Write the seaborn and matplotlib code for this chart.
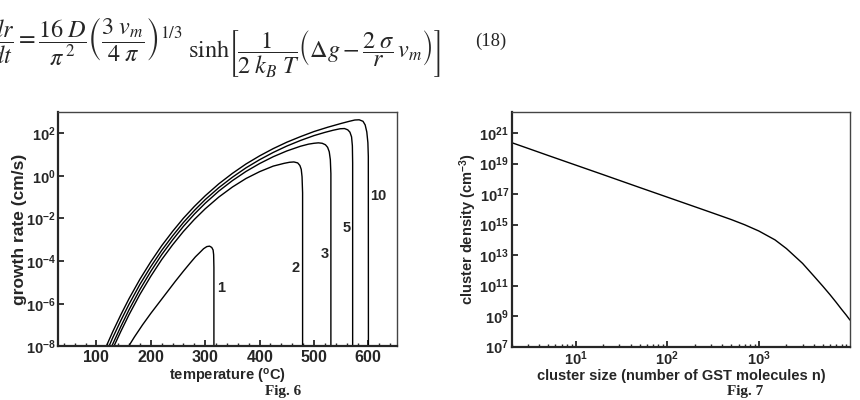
import numpy as np
import pandas as pd
import matplotlib
matplotlib.use("Agg")
import matplotlib.pyplot as plt
import matplotlib.ticker as mticker
import seaborn as sns

# Fig. 6 : growth rate vs temperature, log10 of rate (cm/s)
temp_1 = [159, 170, 185, 200, 215, 230, 245, 260, 272, 282, 290, 297, 303, 308, 312, 314.5,
          315.5, 316, 316]
lgrate_1 = [-8.0, -7.55, -6.98, -6.45, -5.95, -5.45, -4.95, -4.47, -4.1, -3.8, -3.6, -3.42,
            -3.32, -3.3, -3.36, -3.48, -3.7, -4.3, -9.0]

temp_2 = [132, 145, 160, 180, 200, 220, 240, 260, 280, 300, 325, 350, 375, 400, 425, 445,
          455, 463, 470, 474, 476.5, 478, 479, 479]
lgrate_2 = [-8.0, -7.29, -6.51, -5.56, -4.71, -3.93, -3.24, -2.61, -2.05, -1.55, -1.0, -0.53,
            -0.13, 0.19, 0.45, 0.58, 0.63, 0.645, 0.6, 0.48, 0.3, -0.05, -0.8, -9.0]

temp_3 = [128, 145, 160, 180, 200, 220, 240, 260, 280, 300, 325, 350, 375, 400, 425, 450,
          475, 490, 500, 508, 515, 521, 525, 528, 530, 531, 531]
lgrate_3 = [-8.0, -7.06, -6.28, -5.33, -4.48, -3.7, -3.01, -2.37, -1.8, -1.29, -0.72, -0.23,
            0.2, 0.57, 0.89, 1.16, 1.38, 1.48, 1.52, 1.54, 1.52, 1.45, 1.33, 1.12, 0.75, 0.1, -9.0]

temp_5 = [123, 130, 145, 160, 180, 200, 220, 240, 260, 280, 300, 325, 350, 375, 400, 425,
          450, 475, 500, 520, 535, 548, 556, 562, 566, 569, 570.5, 571, 571]
lgrate_5 = [-8.0, -7.59, -6.78, -6.02, -5.09, -4.26, -3.5, -2.82, -2.19, -1.63, -1.12, -0.56,
            -0.07, 0.37, 0.75, 1.09, 1.39, 1.65, 1.88, 2.03, 2.13, 2.2, 2.21, 2.15, 2.04, 1.82,
            1.4, 0.6, -9.0]

temp_10 = [118, 130, 145, 160, 180, 200, 220, 240, 260, 280, 300, 325, 350, 375, 400, 425,
           450, 475, 500, 525, 550, 565, 575, 583, 590, 594, 597, 599, 599.8, 600]
lgrate_10 = [-8.0, -7.31, -6.51, -5.76, -4.85, -4.03, -3.28, -2.61, -1.99, -1.44, -0.94, -0.38,
             0.11, 0.55, 0.93, 1.27, 1.57, 1.83, 2.07, 2.27, 2.45, 2.55, 2.61, 2.62, 2.55, 2.38,
             2.05, 1.55, 0.9, -9.0]

curve_names = ["1", "2", "3", "5", "10"]

# Fig. 7 : cluster density (cm^-3) vs cluster size, density as log10
cluster_size = [2, 3, 5, 10, 20, 50, 100, 200, 300, 500, 700, 1000, 1500, 2000, 3000, 4000,
                5000, 6000, 7000, 8000, 9000, 9900]
lgdensity = [20.37, 20.0, 19.53, 18.9, 18.27, 17.43, 16.8, 16.17, 15.8, 15.33, 14.99, 14.58,
             14.0, 13.43, 12.46, 11.62, 10.96, 10.4, 9.9, 9.45, 9.07, 8.74]

frames = []
for name, t, lr in zip(curve_names,
                       [temp_1, temp_2, temp_3, temp_5, temp_10],
                       [lgrate_1, lgrate_2, lgrate_3, lgrate_5, lgrate_10]):
    frames.append(pd.DataFrame({"temperature": t, "rate": np.power(10.0, lr), "curve": name}))
df6 = pd.concat(frames, ignore_index=True)
df7 = pd.DataFrame({"size": cluster_size, "density": np.power(10.0, lgdensity)})

sns.set_style("ticks")
plt.rcParams["font.family"] = ["Liberation Sans", "DejaVu Sans"]
plt.rcParams["font.weight"] = "normal"
plt.rcParams["mathtext.fontset"] = "custom"
plt.rcParams["mathtext.rm"] = "Liberation Sans:bold"
plt.rcParams["mathtext.bf"] = "Liberation Sans:bold"
plt.rcParams["mathtext.it"] = "Liberation Sans:bold:italic"

fig = plt.figure(figsize=(8.6, 4), dpi=100)
ax1 = fig.add_axes([0.0678, 0.1338, 0.3935, 0.587])
ax2 = fig.add_axes([0.595, 0.1333, 0.3934, 0.5875])

pow_fmt = mticker.FuncFormatter(lambda v, p: r"$\mathbf{10^{%d}}$" % round(np.log10(v)))
int_fmt = mticker.FuncFormatter(lambda v, p: r"$\mathbf{%d}$" % round(v))

# ---- Fig. 6
for name in curve_names:
    sub = df6[df6["curve"] == name]
    sns.lineplot(data=sub, x="temperature", y="rate", ax=ax1, color="black", lw=1.0,
                 sort=False, estimator=None)
ax1.set_yscale("log")
ax1.set_xlim(30, 652)
ax1.set_ylim(1e-8, 1e3)
ax1.yaxis.set_major_locator(mticker.FixedLocator([1e-8, 1e-6, 1e-4, 1e-2, 1e0, 1e2]))
ax1.yaxis.set_minor_locator(mticker.NullLocator())
ax1.yaxis.set_major_formatter(pow_fmt)
ax1.xaxis.set_major_locator(mticker.MultipleLocator(100))
ax1.xaxis.set_minor_locator(mticker.MultipleLocator(20))
ax1.xaxis.set_major_formatter(int_fmt)
ax1.set_xlabel(r"temperature ($^{\mathbf{o}}$C)", fontsize=10.5, fontweight="bold", labelpad=1)
ax1.set_ylabel("growth rate (cm/s)", fontsize=12.5, fontweight="bold")
ax1.yaxis.set_label_coords(-0.093, 0.5)

label_pos = {"1": (330, 10 ** -5.27), "2": (466.8, 10 ** -4.34), "3": (520.2, 10 ** -3.67),
             "5": (560.2, 10 ** -2.43), "10": (617.2, 10 ** -0.97)}
for name, (lx, ly) in label_pos.items():
    ax1.text(lx, ly, name, fontsize=10.5, fontweight="bold", ha="center", va="center")

# ---- Fig. 7
sns.lineplot(data=df7, x="size", y="density", ax=ax2, color="black", lw=1.0,
             sort=False, estimator=None)
ax2.set_xscale("log")
ax2.set_yscale("log")
ax2.set_xlim(2, 9.9e3)
ax2.set_ylim(1e7, 10 ** 22.4)
ax2.yaxis.set_major_locator(mticker.FixedLocator([10.0 ** k for k in range(7, 22, 2)]))
ax2.yaxis.set_minor_locator(mticker.NullLocator())
ax2.yaxis.set_major_formatter(pow_fmt)
ax2.xaxis.set_major_locator(mticker.FixedLocator([1e1, 1e2, 1e3]))
ax2.xaxis.set_minor_locator(mticker.LogLocator(base=10, subs=np.arange(2, 10), numticks=20))
ax2.xaxis.set_major_formatter(pow_fmt)
ax2.xaxis.set_minor_formatter(mticker.NullFormatter())
ax2.set_xlabel("cluster size (number of GST molecules n)", fontsize=10.5, fontweight="bold",
               labelpad=1)
ax2.set_ylabel(r"cluster density (cm$^{\mathbf{-3}}$)", fontsize=10.5, fontweight="bold")
ax2.yaxis.set_label_coords(-0.098, 0.5)

for ax in (ax1, ax2):
    for side in ["left", "bottom"]:
        ax.spines[side].set_linewidth(1.6)
    for side in ["top", "right"]:
        ax.spines[side].set_linewidth(1.0)
        ax.spines[side].set_color("#444444")
    ax.tick_params(which="major", direction="in", length=4.5, width=1.3, labelsize=10.5,
                   pad=2, top=False, right=False)
    ax.tick_params(which="minor", direction="in", length=2.5, width=1.0, top=False, right=False)
ax1.tick_params(axis="x", which="major", labelsize=11.5)

# equation (18) above the figures, partly cut by the page edge as in the source page
eq_left = (r"$\dfrac{dr}{dt} = \dfrac{16\;D}{\pi^{\,2}}"
           r"\left(\dfrac{3\;v_m}{4\;\pi}\right)^{1/3}$")
eq_right = (r"$\mathrm{sinh}\left[\dfrac{1}{2\;k_B\;T}"
            r"\left(\Delta g - \dfrac{2\;\sigma}{r}\,v_m\right)\right]$")
fig.text(-0.012, 1 - 41 / 400, eq_left, fontsize=17.5, ha="left", va="center",
         math_fontfamily="stix")
fig.text(188 / 860, 1 - 54 / 400, eq_right, fontsize=17.5, ha="left", va="center",
         math_fontfamily="stix")
fig.text(475 / 860, 1 - 41 / 400, "(18)", fontsize=13.5, ha="left", va="center",
         family="Liberation Serif")

fig.text(283 / 860, 1 - 391 / 400, "Fig. 6", fontsize=11, ha="center", va="center",
         family="Liberation Serif", fontweight="bold")
fig.text(745 / 860, 1 - 391 / 400, "Fig. 7", fontsize=11, ha="center", va="center",
         family="Liberation Serif", fontweight="bold")

fig.savefig("out.png", dpi=100)
